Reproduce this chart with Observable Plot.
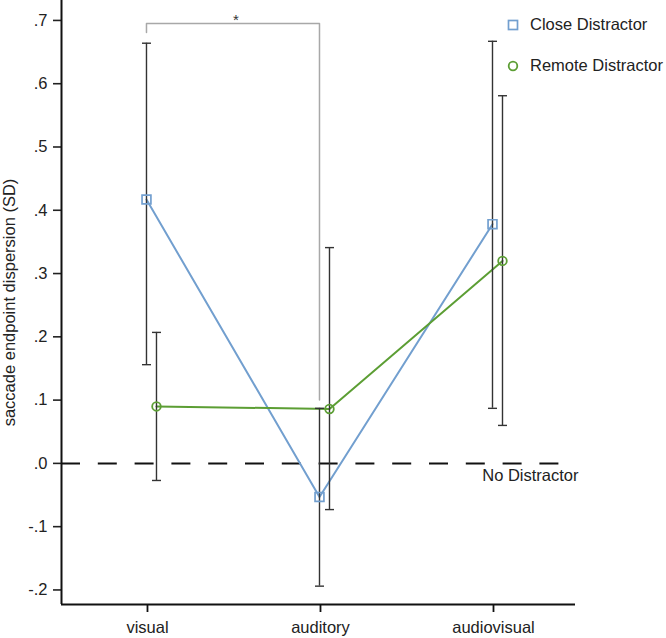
<!DOCTYPE html>
<html>
<head>
<meta charset="utf-8">
<script src="https://cdn.jsdelivr.net/npm/d3@7"></script>
<script src="https://cdn.jsdelivr.net/npm/@observablehq/plot@0.6"></script>
<style>
  html, body { margin: 0; padding: 0; background: #fff; }
  #wrap { position: relative; width: 666px; height: 638px; font-family: "Liberation Sans", Arial, sans-serif; }
  #legend { position: absolute; left: 505px; top: 4px; font-size: 16.5px; color: #222; }
  #legend .item { display: flex; align-items: center; height: 41px; }
  #legend svg { margin-right: 9px; }
</style>
</head>
<body>
<div id="wrap">
  <div id="chart"></div>
  <div id="legend"></div>
</div>
<script>
// ---- data ----
const conditions = ["visual", "auditory", "audiovisual"];
const seriesNames = ["Close Distractor", "Remote Distractor"];
const seriesColors = ["#729fcf", "#5c9e34"];

const closeMean = [0.417, -0.053, 0.378];
const closeLow  = [0.156, -0.194, 0.087];
const closeHigh = [0.664,  0.087, 0.667];

const remoteMean = [0.090, 0.086, 0.320];
const remoteLow  = [-0.027, -0.073, 0.060];
const remoteHigh = [0.207, 0.341, 0.581];

const yTicks = [-0.2, -0.1, 0.0, 0.1, 0.2, 0.3, 0.4, 0.5, 0.6, 0.7];
const yDomain = [-0.223, 0.7315];
const xDomain = [-0.497, 2.474];

const baselineValue = [0];
const baselineLabel = "No Distractor";

const sigFrom = "visual";
const sigTo = "auditory";
const sigLevel = 0.695;
const sigEnds = [0.681, 0.10];
const sigLabel = "*";

const yLabel = "saccade endpoint dispersion (SD)";

// ---- build rows ----
const closeRows = conditions.map((c, i) => ({i, mean: closeMean[i], low: closeLow[i], high: closeHigh[i]}));
const remoteRows = conditions.map((c, i) => ({i, mean: remoteMean[i], low: remoteLow[i], high: remoteHigh[i]}));
const caps = rows => rows.flatMap(d => [{i: d.i, y: d.low}, {i: d.i, y: d.high}]);

const fi = conditions.indexOf(sigFrom), ti = conditions.indexOf(sigTo);
const bracket = [
  {x: fi, y: sigEnds[0]}, {x: fi, y: sigLevel},
  {x: ti, y: sigLevel}, {x: ti, y: sigEnds[1]}
];

const capSymbol = {
  draw(ctx, size) {
    const w = Math.sqrt(size / Math.PI);
    ctx.moveTo(-w, 0);
    ctx.lineTo(w, 0);
  }
};

const fmt = d => (d < 0 ? "-" : "") + "." + Math.round(Math.abs(d) * 10);

const dxClose = -1, dxRemote = 9;
const errColor = "#333";

const chart = Plot.plot({
  width: 666,
  height: 638,
  marginLeft: 61,
  marginRight: 91,
  marginTop: 0,
  marginBottom: 34,
  style: {fontFamily: "Liberation Sans, Arial, sans-serif", fontSize: "16.5px", color: "#222", background: "#fff"},
  x: {type: "linear", domain: xDomain},
  y: {type: "linear", domain: yDomain},
  marks: [
    Plot.ruleY(baselineValue, {stroke: "#111", strokeWidth: 2, strokeDasharray: "19,17.8"}),
    Plot.text([baselineLabel], {frameAnchor: "right", y: () => baselineValue[0], text: d => d, textAnchor: "end", dx: 3, dy: 12, fontSize: 16.5, fill: "#222"}),
    // lines
    Plot.line(closeRows, {x: "i", y: "mean", stroke: seriesColors[0], strokeWidth: 2, dx: dxClose}),
    Plot.line(remoteRows, {x: "i", y: "mean", stroke: seriesColors[1], strokeWidth: 2, dx: dxRemote}),
    // error bars
    Plot.ruleX(closeRows, {x: "i", y1: "low", y2: "high", stroke: errColor, strokeWidth: 1.4, dx: dxClose}),
    Plot.ruleX(remoteRows, {x: "i", y1: "low", y2: "high", stroke: errColor, strokeWidth: 1.4, dx: dxRemote}),
    Plot.dot(caps(closeRows), {x: "i", y: "y", symbol: capSymbol, r: 4.5, stroke: errColor, fill: "none", strokeWidth: 1.4, dx: dxClose}),
    Plot.dot(caps(remoteRows), {x: "i", y: "y", symbol: capSymbol, r: 4.5, stroke: errColor, fill: "none", strokeWidth: 1.4, dx: dxRemote}),
    // points
    Plot.dot(closeRows, {x: "i", y: "mean", symbol: "square", r: 5, stroke: seriesColors[0], fill: "none", strokeWidth: 1.7, dx: dxClose}),
    Plot.dot(remoteRows, {x: "i", y: "mean", symbol: "circle", r: 4.3, stroke: seriesColors[1], fill: "none", strokeWidth: 1.8, dx: dxRemote}),
    // significance bracket
    Plot.line(bracket, {x: "x", y: "y", stroke: "#a8a8a8", strokeWidth: 1.5, dx: dxClose}),
    Plot.text([sigLabel], {x: () => (fi + ti) / 2, y: () => sigLevel, text: d => d, fontSize: 15, dy: -3, dx: 2, fill: "#333"}),
    // axes
    Plot.axisY(yTicks, {tickFormat: fmt, tickSize: 8, tickPadding: 6, strokeWidth: 1.6, stroke: "#222", label: null}),
    Plot.axisX([0, 1, 2], {tickFormat: i => conditions[i], tickSize: 8, tickPadding: 9, strokeWidth: 1.8, stroke: "#111", label: null}),
    Plot.ruleX([xDomain[0]], {stroke: "#111", strokeWidth: 2}),
    Plot.ruleY([yDomain[0]], {stroke: "#111", strokeWidth: 2}),
    Plot.text([yLabel], {frameAnchor: "left", y: () => (yDomain[0] + yDomain[1]) / 2, text: d => d, rotate: -90, textAnchor: "middle", dx: -52, fontSize: 16.5, fill: "#222"})
  ]
});
document.getElementById("chart").appendChild(chart);

// legend
const legend = document.getElementById("legend");
seriesNames.forEach((name, k) => {
  const item = document.createElement("div");
  item.className = "item";
  const shape = k === 0
    ? `<rect x="3.5" y="3.5" width="9" height="9" fill="none" stroke="${seriesColors[0]}" stroke-width="1.7"/>`
    : `<circle cx="8" cy="8" r="4.3" fill="none" stroke="${seriesColors[1]}" stroke-width="1.8"/>`;
  item.innerHTML = `<svg width="16" height="16">${shape}</svg><span>${name}</span>`;
  legend.appendChild(item);
});
</script>
</body>
</html>
